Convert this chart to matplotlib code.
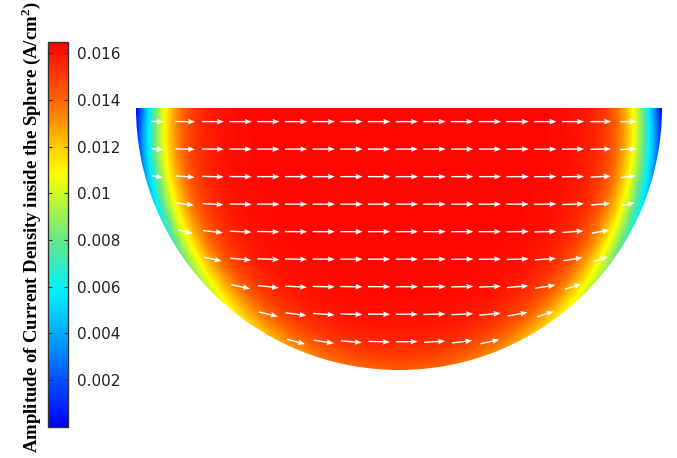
import numpy as np
import matplotlib.pyplot as plt
from matplotlib.colors import LinearSegmentedColormap
from matplotlib.patches import Wedge

plt.rcParams['mathtext.fontset'] = 'custom'
plt.rcParams['mathtext.rm'] = 'Liberation Serif'
plt.rcParams['mathtext.bf'] = 'Liberation Serif:bold'

# colour scale (A/cm^2)
j_min, j_max = 0.0, 0.0165
cbar_ticks = [0.002, 0.004, 0.006, 0.008, 0.01, 0.012, 0.014, 0.016]
cbar_labels = ['0.002', '0.004', '0.006', '0.008', '0.01', '0.012', '0.014', '0.016']

# rainbow table: blue -> cyan -> green -> yellow -> red
rainbow_stops = [0.0, 0.12, 0.24, 0.35, 0.48, 0.60, 0.66, 0.73, 0.85, 1.0]
rainbow_colors = ['#0000ff', '#0050ff', '#00aaff', '#00f0ff', '#64e68c',
                  '#c8fa28', '#ffff00', '#ffc800', '#ff6400', '#ff0000']

# current density levels across the half section
j_core = 0.0163      # deep inside the sphere
j_surface = 0.0142   # on the surface at the bottom pole
skin_depth = 0.137   # surface layer thickness, in sphere radii
turn = 0.85          # how strongly the flow bends along the surface

# arrow grid, in sphere radii
arrow_x0, arrow_dx, n_cols = -0.918, 0.1053, 19
arrow_y0, arrow_dy, n_rows = -0.052, 0.105, 9
arrow_rmax = 0.978


def current_density(x, y):
    r = np.hypot(x, y)
    depth = np.clip(1.0 - r, 0.0, None)
    sin_t = np.abs(y) / np.maximum(r, 1e-9)
    j_edge = j_surface * sin_t
    w = np.tanh(depth / skin_depth)
    mag = j_edge + (j_core - j_edge) * w
    # flow is horizontal inside and leans with the surface near the wall
    alpha = np.arctan2(y, x) + np.pi / 2
    ang = turn * 0.5 * np.sin(2 * alpha) * (1 - w) ** 0.8
    return mag, np.cos(ang), np.sin(ang)


cmap = LinearSegmentedColormap.from_list('rainbow_c', list(zip(rainbow_stops, rainbow_colors)))

fig = plt.figure(figsize=(6.77, 4.58), dpi=100)
ax = fig.add_axes([136 / 677, 88 / 458, 526 / 677, 262 / 458])

xs = np.linspace(-1, 1, 900)
ys = np.linspace(-1, 0, 450)
X, Y = np.meshgrid(xs, ys)
J, _, _ = current_density(X, Y)

im = ax.imshow(J, extent=(-1, 1, -1, 0), origin='lower', cmap=cmap,
               vmin=j_min, vmax=j_max, interpolation='bilinear', aspect='auto')
half = Wedge((0, 0), 1.0, 180, 360, transform=ax.transData, facecolor='none', edgecolor='none')
ax.add_patch(half)
im.set_clip_path(half)

# arrows on a regular grid, kept inside the section
gx = arrow_x0 + arrow_dx * np.arange(n_cols)
gy = arrow_y0 - arrow_dy * np.arange(n_rows)
AX, AY = np.meshgrid(gx, gy)
inside = np.hypot(AX, AY) < arrow_rmax
px, py = AX[inside], AY[inside]
amag, adx, ady = current_density(px, py)
ax.quiver(px, py, adx * amag, ady * amag, color='white', pivot='middle',
          angles='xy', scale_units='xy', scale=j_core / 0.085,
          units='dots', width=1.4, headwidth=4, headlength=5, headaxislength=4.5)

ax.set_xlim(-1, 1)
ax.set_ylim(-1, 0)
ax.axis('off')

# colour bar
cax = fig.add_axes([48.3 / 677, 31.3 / 458, 19.4 / 677, 385 / 458])
cb = fig.colorbar(im, cax=cax, ticks=cbar_ticks)
cb.ax.set_yticklabels(cbar_labels)
cb.ax.tick_params(direction='in', length=3, width=0.8, left=True, right=True,
                  labelsize=11, colors='#333333', pad=7)
cb.ax.tick_params(labelcolor='#222222')
cb.outline.set_edgecolor('#333333')
cb.outline.set_linewidth(1.0)

fig.text(31 / 677, 0.503,
         r'Amplitude of Current Density inside the Sphere (A/cm$^{\mathbf{2}}$)',
         rotation=90, ha='center', va='center', fontsize=13.5, fontweight='bold',
         family='Liberation Serif')

fig.savefig('out.png', dpi=100)
